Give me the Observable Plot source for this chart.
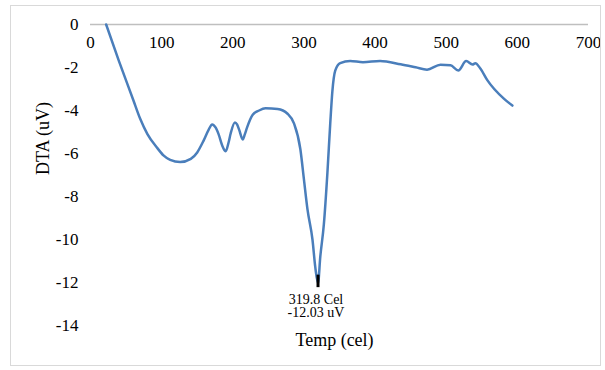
<!DOCTYPE html>
<html><head><meta charset="utf-8">
<script src="https://cdn.jsdelivr.net/npm/d3@7"></script>
<script src="https://cdn.jsdelivr.net/npm/@observablehq/plot@0.6"></script>
<style>
body{margin:0;background:#fff;}
#frame{position:absolute;left:10px;top:5px;width:589px;height:359px;border:1px solid #d9d9d9;background:#fff;}
#frame svg{display:block;}
</style></head><body><div id="frame"></div>
<script>
const temp = [22,40,60,70,80,94,103,112,126,141,150,159,166,171,176,180,186,190,194,197,203,206,209,214,217,220,228,237,246,263,277,286,295,300,305,312,316,319.8,323,328,333,337,340,344,351,365,383,407,436,457,473,492,506,517,528,537,541,548,558,581,593];
const dta = [0,-1.7,-3.5,-4.4,-5.1,-5.75,-6.1,-6.3,-6.4,-6.25,-5.95,-5.4,-4.9,-4.65,-4.8,-5.1,-5.7,-5.9,-5.5,-5.07,-4.56,-4.65,-4.9,-5.35,-5.1,-4.8,-4.2,-4.0,-3.9,-3.93,-4.15,-4.6,-5.8,-7.2,-8.6,-10.0,-11.3,-12.03,-10.8,-9.3,-6.9,-4.6,-3.1,-2.15,-1.8,-1.7,-1.75,-1.7,-1.85,-1.99,-2.1,-1.87,-1.9,-2.14,-1.7,-1.86,-1.8,-2.05,-2.6,-3.45,-3.77];
const xTicks = [0,100,200,300,400,500,600,700];
const yTicks = [0,-2,-4,-6,-8,-10,-12,-14];
const peakTemp = 319.8;
const peakDta = -12.03;
const peakLines = ["319.8 Cel", "-12.03 uV"];
const xTitle = "Temp (cel)";
const yTitle = "DTA (uV)";

const data = temp.map((t, i) => ({t, v: dta[i]}));
const peak = [{t: peakTemp, v: peakDta, label: peakLines.join("\n")}];

const chart = Plot.plot({
  width: 589, height: 359,
  marginLeft: 79, marginRight: 12, marginTop: 18, marginBottom: 40,
  style: {fontFamily: "'Liberation Serif', 'Times New Roman', serif", fontSize: "17px", color: "#000", background: "#fff"},
  x: {domain: [0, 700], axis: null},
  y: {domain: [-14, 0], ticks: yTicks, tickSize: 0, tickPadding: 12, tickFormat: d => String(d), label: null},
  marks: [
    Plot.ruleY([0], {stroke: "#bfbfbf", strokeWidth: 1.5}),
    Plot.text(xTicks, {x: d => d, y: 0, text: d => String(d), dy: 18, fontSize: 17}),
    Plot.line(data, {x: "t", y: "v", stroke: "#4a7ebb", strokeWidth: 2.5, curve: "monotone-x"}),
    Plot.ruleX(peak, {x: "t", y1: "v", y2: "v", stroke: "#000", strokeWidth: 3, insetTop: -8, insetBottom: -4.5}),
    Plot.text(peak, {x: "t", y: "v", text: "label", lineAnchor: "top", dy: 11, dx: -2, fontSize: 14, lineHeight: 0.95}),
    Plot.text([xTitle], {frameAnchor: "bottom", text: d => d, dy: 15, dx: -5, fontSize: 18, lineAnchor: "middle"}),
    Plot.text([yTitle], {frameAnchor: "left", text: d => d, dx: -47, rotate: -90, fontSize: 18, lineAnchor: "middle"})
  ]
});
document.getElementById("frame").appendChild(chart);
</script></body></html>
